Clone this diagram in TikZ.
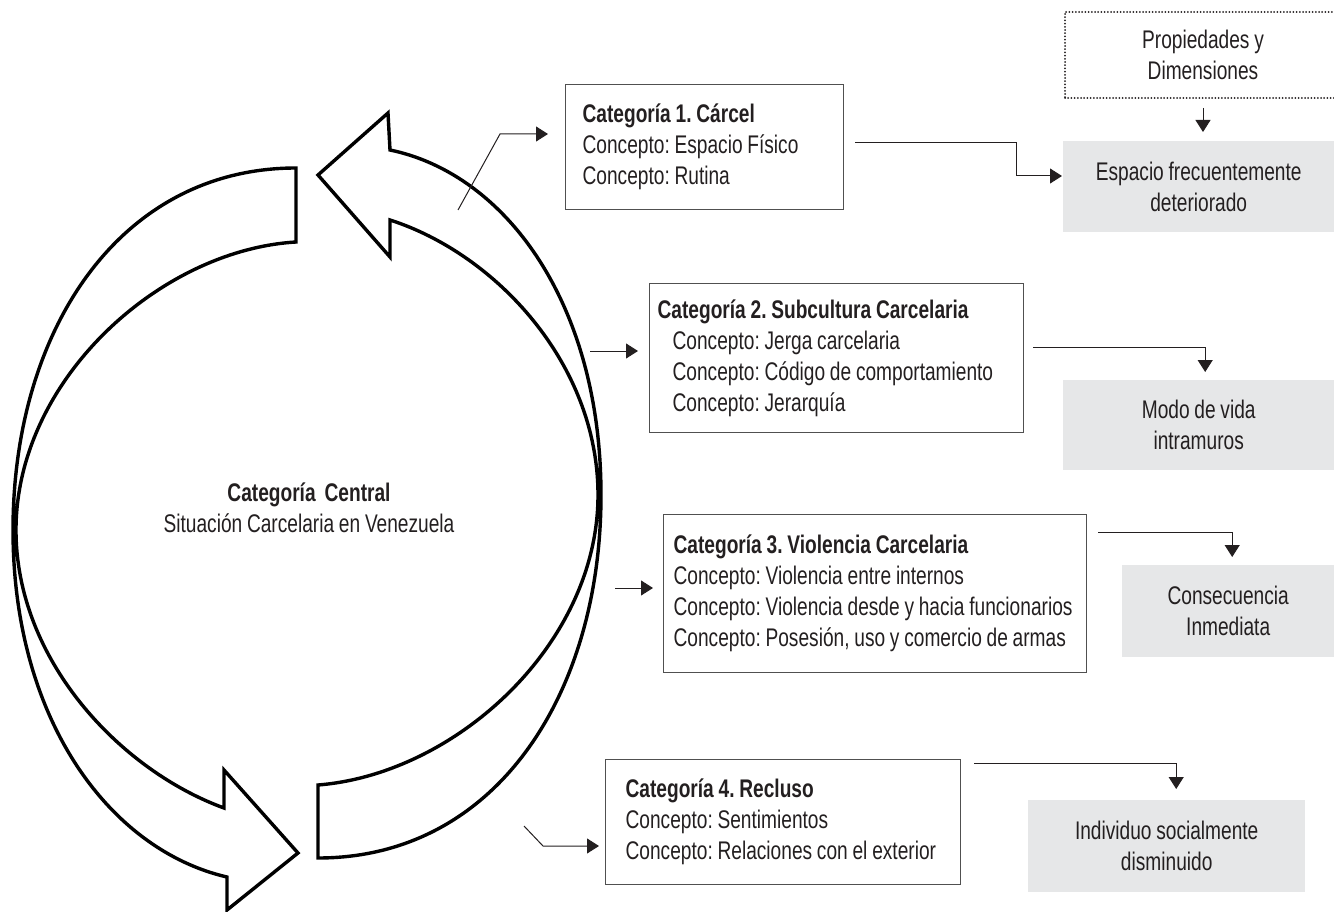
\documentclass[tikz,border=0pt]{standalone}
\usepackage{fontspec}
\setmainfont{Liberation Sans}[FakeStretch=0.75, WordSpace=0.9]
\usetikzlibrary{arrows.meta,calc}
\frenchspacing
\hyphenpenalty=10000
\exhyphenpenalty=10000

\begin{document}
\begin{tikzpicture}[x=1pt,y=-1pt,
	every node/.style={font=\fontsize{25.5pt}{31pt}\selectfont, inner sep=0pt},
	catbox/.style={draw=custcol_50_50_50, line width=1.3pt, align=flush left, text=custcol_23_1f_20, anchor=north west},
	resbox/.style={fill=custcol_e6_e7_e8, align=flush center, text=custcol_23_1f_20, anchor=north west},
	propbox/.style={draw=custcol_23_1f_20, line width=2pt, line cap=round, dash pattern=on 0pt off 3.2pt, align=flush center, text=custcol_23_1f_20, anchor=north west},
	link/.style={draw=custcol_23_1f_20, line width=1pt, -{Triangle[length=12pt,width=15pt]}},
	bigarrow/.style={draw=black, line width=3.4pt, fill=white, line join=miter}]
					\definecolor{custcol_23_1f_20}{RGB}{35, 31, 32}
					\definecolor{custcol_50_50_50}{RGB}{80, 80, 80}
					\definecolor{custcol_e6_e7_e8}{RGB}{230, 231, 232}
					\useasboundingbox (0,0) rectangle (1334,912);
					% ciclo: dos flechas curvas
					\draw[bigarrow] (296,168) .. controls (120,168) and (13,330) .. (13,530)
						.. controls (13,720) and (110,850) .. (227,877)
						-- (227,910) -- (298,853) -- (224,770) -- (224,808)
						.. controls (120,770) and (16,660) .. (16,530)
						.. controls (16,380) and (160,250) .. (296,242) -- cycle;
					\draw[bigarrow] (318,858) .. controls (496,858) and (601,694) .. (601,495)
						.. controls (601,304) and (506,174) .. (390,150)
						-- (388,113) -- (318,175) -- (390,257) -- (390,220)
						.. controls (496,254) and (598,364) .. (598,495)
						.. controls (598,644) and (456,774) .. (318,785) -- cycle;
					\node[align=flush center, text=custcol_23_1f_20] (central) at (309,508) {\textbf{Categoría\hspace{9pt}Central}\\Situación Carcelaria en Venezuela};
					% categorias
					\node[catbox, minimum width=278pt, minimum height=125pt, text width=244pt] (cat1) at (565,84) {\textbf{Categoría 1. Cárcel}\\Concepto: Espacio Físico\\Concepto: Rutina};
					\node[catbox, minimum width=374pt, minimum height=149pt, text width=358pt] (cat2) at (649,283) {\textbf{Categoría 2. Subcultura Carcelaria}\\\hspace*{15pt}Concepto: Jerga carcelaria\\\hspace*{15pt}Concepto: Código de comportamiento\\\hspace*{15pt}Concepto: Jerarquía};
					\node[catbox, minimum width=423pt, minimum height=158pt, text width=403pt] (cat3) at (663,514) {\textbf{Categoría 3. Violencia Carcelaria}\\Concepto: Violencia entre internos\\Concepto: Violencia desde y hacia funcionarios\\Concepto: Posesión, uso y comercio de armas};
					\node[catbox, minimum width=355pt, minimum height=125pt, text width=315pt] (cat4) at (605,759) {\textbf{Categoría 4. Recluso}\\Concepto: Sentimientos\\Concepto: Relaciones con el exterior};
					% propiedades
					\node[propbox, minimum width=276pt, minimum height=86pt] (prop) at (1064,11) {Propiedades y\\Dimensiones};
					\node[resbox, minimum width=271pt, minimum height=91pt] (esp) at (1063,141) {Espacio frecuentemente\\deteriorado};
					\node[resbox, minimum width=271pt, minimum height=90pt] (modo) at (1063,380) {Modo de vida\\intramuros};
					\node[resbox, minimum width=212pt, minimum height=92pt] (cons) at (1122,565) {Consecuencia\\Inmediata};
					\node[resbox, minimum width=277pt, minimum height=92pt] (indiv) at (1028,800) {Individuo socialmente\\disminuido};
					% conectores
					\coordinate (s1) at (458,210);
					\coordinate (k1) at (500,134);
					\coordinate (s2) at (590,351);
					\coordinate (s3) at (615,588);
					\coordinate (s4) at (524,826);
					\coordinate (k4) at (543,846);
					\coordinate (k5) at (1016,176);
					\draw[link, shorten >=17pt] (s1) -- (k1) -- (k1 -| cat1.west);
					\draw[link, shorten >=11pt] (s2) -- (s2 -| cat2.west);
					\draw[link, shorten >=10pt] (s3) -- (s3 -| cat3.west);
					\draw[link, shorten >=6pt] (s4) -- (k4) -- (k4 -| cat4.west);
					\draw[link, shorten >=1pt] ($(cat1.east)+(11,-5)$) -| (k5) -- (k5 -| esp.west);
					\draw[link, shorten >=8pt] ($(cat2.east)+(9,-11)$) -| ($(modo.north)+(6.5,0)$);
					\draw[link, shorten >=8pt] ($(cat3.north east)+(11,18)$) -| ($(cons.north)+(4,0)$);
					\draw[link, shorten >=11pt] ($(cat4.north east)+(13,4)$) -| ($(indiv.north)+(9.5,0)$);
					\draw[link, shorten <=9pt, shorten >=9pt] (prop.south) -- (prop.south |- esp.north);
\end{tikzpicture}
\end{document}
